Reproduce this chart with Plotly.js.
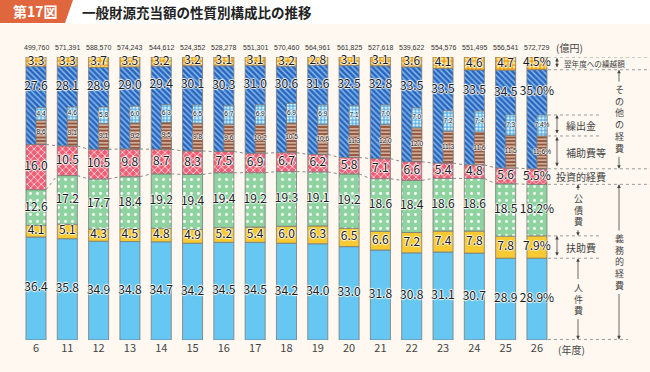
<!DOCTYPE html>
<html><head><meta charset="utf-8">
<script src="https://cdn.plot.ly/plotly-3.0.1.min.js"></script>
<style>html,body{margin:0;padding:0;background:#FEF8F0}#chart{width:650px;height:372px}</style>
</head><body><div id="chart"></div>
<script>
// ---- data ----
const years = ['6','11','12','13','14','15','16','17','18','19','20','21','22','23','24','25','26'];
const totals = ['499,760','571,391','588,570','574,243','544,612','524,352','528,278','551,301','570,460','564,961','561,825','527,618','539,622','554,576','551,495','556,541','572,729'];
const jinken    = [36.4,35.8,34.9,34.8,34.7,34.2,34.5,34.5,34.2,34.0,33.0,31.8,30.8,31.1,30.7,28.9,28.9]; // 人件費
const fujo      = [4.1,5.1,4.3,4.5,4.8,4.9,5.2,5.4,6.0,6.3,6.5,6.6,7.2,7.4,7.8,7.8,7.9];            // 扶助費
const kosai     = [12.6,17.2,17.7,18.4,19.2,19.4,19.4,19.2,19.3,19.1,19.2,18.6,18.4,18.6,18.6,18.5,18.2]; // 公債費
const toshi     = [16.0,10.5,10.5,9.8,8.7,8.3,7.5,6.9,6.7,6.2,5.8,7.1,6.6,5.4,4.8,5.6,5.5];        // 投資的経費
const sonota    = [27.6,28.1,28.9,29.0,29.4,30.1,30.3,31.0,30.6,31.6,32.5,32.8,33.5,33.5,33.5,34.5,35.0]; // その他の経費
const kurikoshi = [3.3,3.3,3.7,3.5,3.2,3.2,3.1,3.1,3.2,2.8,3.1,3.1,3.6,4.1,4.6,4.7,4.5];           // 翌年度への繰越額
const hojo      = [8.6,9.1,9.1,9.2,9.5,9.8,9.6,10.2,10.5,10.6,11.3,12.0,12.0,11.3,11.6,11.5,11.6]; // 補助費等
const kuridashi = [4.4,4.6,5.8,6.0,6.3,6.5,6.7,6.9,6.9,6.9,7.1,7.0,7.0,7.2,7.4,7.3,7.4];          // 繰出金

const N = years.length, L = N - 1;
const xs = years.map((_, i) => i);
const fmt = (v, i) => v.toFixed(1) + (i === L ? '%' : '');

// cumulative bases
const mainSeries = [jinken, fujo, kosai, toshi, sonota, kurikoshi];
const bases = [];
let run = new Array(N).fill(0);
for (const s of mainSeries) { bases.push(run.slice()); run = run.map((r, i) => r + s[i]); }
const hojoBase = bases[4];
const kuriBase = bases[4].map((b, i) => b + hojo[i]);

const outline = {color: '#7a7a7a', width: 0.8};
const BW = 0.64;
const styles = [
  {color: '#66C7F2'},
  {color: '#F8C930'},
  {color: '#8ED3A0', pattern: {shape: '.', fgcolor: '#ffffff', bgcolor: '#8ED3A0', size: 7, solidity: 0.14}},
  {color: '#EE5E74', pattern: {shape: 'x', fgcolor: '#ffffff', bgcolor: '#EE5E74', size: 5, solidity: 0.25}},
  {color: '#2A66BF', pattern: {shape: '\\', fgcolor: '#8CC0EE', bgcolor: '#2A66BF', size: 4, solidity: 0.35}},
  {color: '#F39A1C', pattern: {shape: '.', fgcolor: '#FCE36A', bgcolor: '#F39A1C', size: 4, solidity: 0.45}}
];

const traces = [];
mainSeries.forEach((s, k) => {
  traces.push({type: 'bar', x: xs, y: s, base: bases[k], width: BW, offset: -BW/2,
    marker: Object.assign({line: outline}, styles[k]), hoverinfo: 'skip'});
});
traces.push({type: 'bar', x: xs, y: hojo, base: hojoBase, width: BW/2, offset: 0,
  marker: {color: '#94553A', line: outline, pattern: {shape: '-', fgcolor: '#EBD3C5', bgcolor: '#94553A', size: 3.5, solidity: 0.35}}, hoverinfo: 'skip'});
traces.push({type: 'bar', x: xs, y: kuridashi, base: kuriBase, width: BW/2, offset: 0,
  marker: {color: '#5AB1E8', line: outline, pattern: {shape: '.', fgcolor: '#E2F3FD', bgcolor: '#5AB1E8', size: 3.5, solidity: 0.45}}, hoverinfo: 'skip'});

// connectors (dotted) at top of 公債費 and top of 投資的経費
function connector(cum) {
  const x = [], y = [];
  for (let i = 0; i < N - 1; i++) { x.push(i + BW/2, i + 1 - BW/2, null); y.push(cum[i], cum[i+1], null); }
  return {type: 'scatter', mode: 'lines', x, y, line: {color: '#8a8a8a', width: 1, dash: 'dot'}, hoverinfo: 'skip'};
}
traces.push(connector(bases[3]));
traces.push(connector(bases[4]));

// labels
const shadow = 'white 1px 0px 1px, white -1px 0px 1px, white 0px 1px 1px, white 0px -1px 1px';
const labFont = {family: 'Noto Sans CJK JP, Noto Sans, sans-serif', size: 12, color: '#1a1a1a', shadow};
const smallFont = {family: 'Liberation Sans, Noto Sans, sans-serif', size: 6.5, color: '#1a1a1a', shadow};
function labels(vals, ys, font, dx) {
  return {type: 'scatter', mode: 'text', x: xs.map(x => x + (dx || 0)), y: ys, text: vals.map(fmt),
    textposition: 'middle center', textfont: font, cliponaxis: false, hoverinfo: 'skip'};
}
[0, 1, 2, 3, 5].forEach(k => {
  const s = mainSeries[k];
  traces.push(labels(s, s.map((v, i) => bases[k][i] + v / 2), labFont));
});
// その他: between top of sub-bars and top of segment
traces.push(labels(sonota, sonota.map((v, i) => (kuriBase[i] + kuridashi[i] + bases[4][i] + v) / 2), labFont));
traces.push(labels(hojo, hojo.map((v, i) => hojoBase[i] + v / 2), smallFont, BW/4));
traces.push(labels(kuridashi, kuridashi.map((v, i) => kuriBase[i] + v / 2), smallFont, BW/4));

// ---- layout geometry helpers (decor only) ----
const PXU = 31.31, X0 = -0.511;
const px2x = px => X0 + (px - 20) / PXU;
const PPU = 283 / 100; // px per % unit
const px2px = px => (px - 20) / 630;      // paper x
const py2py = py => (340 - py) / 283;     // paper y

const b1 = jinken[L], b2 = b1 + fujo[L], b3 = b2 + kosai[L], b4 = b3 + toshi[L];
const b5 = b4 + hojo[L], b6 = b5 + kuridashi[L], b7 = b4 + sonota[L], b8 = b7 + kurikoshi[L];

const gray = '#9a9a9a';
const shapes = [
  {type: 'rect', xref: 'paper', yref: 'paper', x0: px2px(0), x1: 1, y0: py2py(24), y1: py2py(0), fillcolor: '#ffffff', line: {width: 0}, layer: 'below'},
  {type: 'path', xref: 'paper', yref: 'paper',
   path: `M ${px2px(0)} ${py2py(0)} L ${px2px(73)} ${py2py(0)} L ${px2px(65)} ${py2py(23)} L ${px2px(0)} ${py2py(23)} Z`,
   fillcolor: '#E0663E', line: {width: 0}}
];
const hline = (y, pxEnd) => shapes.push({type: 'line', xref: 'x', yref: 'y', x0: L + BW/2 + 0.03, x1: px2x(pxEnd), y0: y, y1: y,
  line: {color: gray, width: 1, dash: 'dot'}});
hline(b8, 650); hline(b7, 650); hline(b6, 600); hline(b5, 600);
hline(b4, 650); hline(b3, 650); hline(b2, 600); hline(b1, 600); hline(0.2, 628);

const cjk = 'Noto Sans CJK JP, sans-serif';
const annotations = [];
// totals above bars
totals.forEach((t, i) => annotations.push({text: t, x: i, y: 100, xref: 'x', yref: 'y', xanchor: 'center', yanchor: 'middle',
  yshift: 10, showarrow: false, borderpad: 0, font: {family: 'Liberation Sans, sans-serif', size: 7, color: '#333'}}));

const txt = (t, xpx, y, size, anchor, yshift) => annotations.push({text: t, x: px2x(xpx), y, xref: 'x', yref: 'y',
  xanchor: anchor || 'left', yanchor: 'middle', showarrow: false, yshift: yshift || 0,
  font: {family: cjk, size: size, color: '#444'}});
txt('(億円)', 554, 100, 10, 'left', 10);
txt('(年度)', 556, 0, 10, 'left', -9);
txt('翌年度への繰越額', 562, (b7 + b8) / 2, 7.6);
txt('繰出金', 564, (b5 + b6) / 2, 10);
txt('補助費等', 564, (b4 + b5) / 2, 10);
txt('投資的経費', 554, (b3 + b4) / 2, 10);
txt('扶助費', 564, (b1 + b2) / 2, 10);

const arrow = (xpx, yHead, yTail, both) => annotations.push({text: '', x: px2x(xpx), y: yHead, ax: px2x(xpx), ay: yTail,
  xref: 'x', yref: 'y', axref: 'x', ayref: 'y', showarrow: true, arrowhead: 2, arrowsize: 0.9, arrowwidth: 0.8,
  arrowcolor: '#444', arrowside: both ? 'end+start' : 'end', standoff: 0, startstandoff: 0});
arrow(557, b8 - 0.3, b7 + 0.3, true);
arrow(557, b6, b5 + 0.3, true);
arrow(557, b5 - 0.3, b4 + 0.3, true);
arrow(557, b2, b1 + 0.3, true);

// vertical (stacked-character) labels with arrows to the bracket ends
function vtext(chars, xpx, center, yLo, yHi) {
  const fs = 9, n = chars.length, lh = fs * 1.3;
  annotations.push({text: chars.split('').join('<br>'), x: px2x(xpx), y: center, xref: 'x', yref: 'y',
    xanchor: 'center', yanchor: 'middle', showarrow: false, borderpad: 0,
    font: {family: cjk, size: fs, color: '#444'}});
  const half = (n * lh / 2 + 1) / PPU;
  arrow(xpx, yHi, center + half, false);
  arrow(xpx, yLo, center - half, false);
}
vtext('公債費', 578, (b2 + b3) / 2, b2, b3);
vtext('人件費', 578, b1 / 2, 0.2, b1);
vtext('その他の経費', 619, (b4 + b7) / 2, b4, b7);
vtext('義務的経費', 619, b3 / 2, 0.2, b3);

// header texts
annotations.push({text: '<b>第17図</b>', xref: 'paper', yref: 'paper', x: px2px(35), y: py2py(11.5), xanchor: 'center', yanchor: 'middle',
  showarrow: false, font: {family: cjk, size: 14, color: '#ffffff'}});
annotations.push({text: '<b>一般財源充当額の性質別構成比の推移</b>', xref: 'paper', yref: 'paper', x: px2px(80), y: py2py(12), xanchor: 'left', yanchor: 'middle',
  showarrow: false, font: {family: cjk, size: 13.5, color: '#222'}});

const layout = {
  width: 650, height: 372,
  margin: {l: 20, r: 0, t: 57, b: 32},
  paper_bgcolor: '#FEF8F0', plot_bgcolor: 'rgba(0,0,0,0)',
  barmode: 'overlay', showlegend: false,
  xaxis: {range: [X0, X0 + 630 / PXU], tickvals: xs, ticktext: years, showgrid: false, zeroline: false, showline: false,
    ticks: '', tickfont: {family: cjk, size: 11, color: '#444'}, fixedrange: true},
  yaxis: {range: [0, 100], visible: false, fixedrange: true},
  shapes, annotations
};
Plotly.newPlot('chart', traces, layout, {displayModeBar: false, staticPlot: true});
</script></body></html>
